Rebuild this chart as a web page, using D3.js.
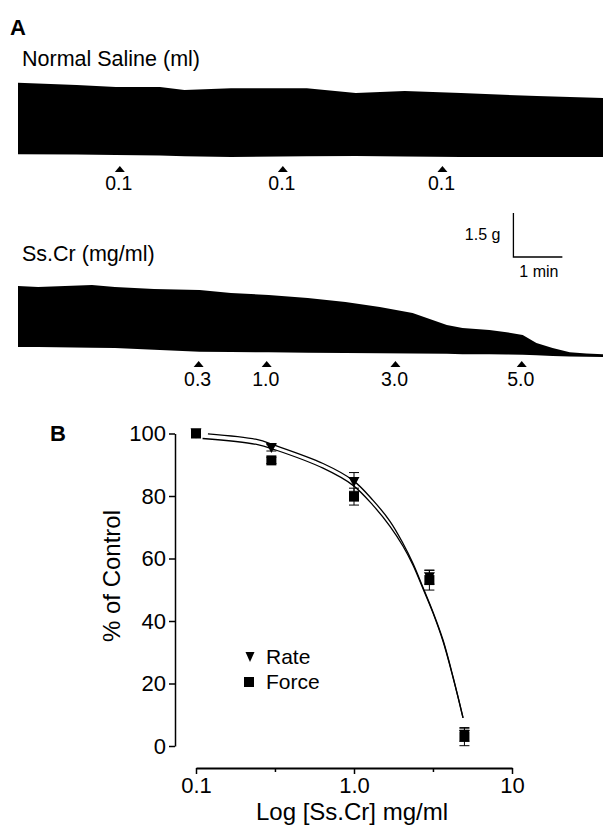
<!DOCTYPE html>
<html><head><meta charset="utf-8">
<script src="https://cdn.jsdelivr.net/npm/d3@7"></script>
<style>
body{margin:0;background:#fff}
svg{display:block}
text{font-family:"Liberation Sans",Arial,Helvetica,sans-serif;fill:#000}
</style>
</head><body><svg id="c" width="603" height="827"></svg>
<script>
// ---------- Panel A: tension traces (time in min, tension in g) ----------
const salineTime = [0, 1.2, 2.0, 2.9, 3.4, 4.35, 5.9, 6.9, 7.9, 9.05, 10.6, 11.95];
const salinePeak = [2.63, 2.56, 2.49, 2.49, 2.39, 2.45, 2.45, 2.28, 2.35, 2.28, 2.18, 2.11];
const salineRest = [0.20, 0.19, 0.17, 0.15, 0.13, 0.10, 0.13, 0.14, 0.12, 0.10, 0.10, 0.10];
const salineDoseTime = [2.08, 5.41, 8.67];
const salineDoseLabels = ["0.1", "0.1", "0.1"];

const sscrTime = [0, 0.41, 1.51, 1.98, 2.78, 3.71, 4.35, 5.12, 5.92, 6.69, 7.39, 8.06, 8.76, 9.08, 9.63, 9.98, 10.31, 10.59, 10.92, 11.27, 11.61, 11.95];
const sscrPeak = [2.52, 2.49, 2.56, 2.49, 2.42, 2.39, 2.28, 2.22, 2.11, 1.98, 1.81, 1.60, 1.19, 1.09, 1.02, 0.95, 0.85, 0.58, 0.41, 0.26, 0.22, 0.20];
const sscrRest = [0.44, 0.44, 0.42, 0.41, 0.35, 0.28, 0.27, 0.26, 0.25, 0.24, 0.23, 0.22, 0.21, 0.20, 0.20, 0.19, 0.18, 0.16, 0.14, 0.12, 0.11, 0.10];
const sscrDoseTime = [3.69, 5.08, 7.71, 10.29];
const sscrDoseLabels = ["0.3", "1.0", "3.0", "5.0"];

// ---------- Panel B: concentration-response ----------
const conc = [0.1, 0.3, 1.0, 3.0, 5.0];
const rateMean = [100, 95.4, 84.5, 54.0, 3.5];
const rateSEM = [0, 1.0, 3.0, 2.2, 2.0];
const forceMean = [100, 91.4, 79.8, 53.1, 3.0];
const forceSEM = [0, 1.0, 2.7, 3.2, 2.9];

const rateFitX = [0.119, 0.242, 0.316, 0.637, 0.986, 1.32, 1.69, 2.04, 2.36, 2.73, 3.16, 3.66, 4.24, 4.9];
const rateFitY = [99.9, 98.1, 96.2, 90.4, 85.0, 78.6, 71.9, 64.9, 58.5, 50.8, 42.9, 33.9, 22.0, 9.0];
const forceFitX = [0.11, 0.242, 0.316, 0.637, 0.986, 1.32, 1.69, 2.04, 2.36, 2.73, 3.16, 3.66, 4.24, 4.9];
const forceFitY = [98.4, 96.5, 94.8, 88.9, 83.4, 77.0, 70.3, 64.0, 57.9, 50.4, 42.6, 33.5, 21.8, 9.0];

const xTickValues = [0.1, 0.316, 1, 3.16, 10];
const xTickLabels = ["0.1", "", "1.0", "", "10"];
const yTickValues = [0, 20, 40, 60, 80, 100];
const legendNames = ["Rate", "Force"];

const svg = d3.select("#c");
const FONT = '"Liberation Sans",Arial,Helvetica,sans-serif';

// ===== Panel A =====
svg.append("text").attr("x", 10).attr("y", 35).attr("font-size", 22).attr("font-weight", "bold").text("A");
svg.append("text").attr("x", 22).attr("y", 66).attr("font-size", 21.5).text("Normal Saline (ml)");
svg.append("text").attr("x", 22).attr("y", 261).attr("font-size", 21.5).text("Ss.Cr (mg/ml)");

const tScale = d3.scaleLinear().domain([0, 11.95]).range([18, 603]);
const g1 = d3.scaleLinear().domain([0, 3]).range([160, 72]);
const g2 = d3.scaleLinear().domain([0, 3]).range([360, 272]);

function drawTrace(times, peak, rest, gs) {
  const area = d3.area()
    .x((d, i) => tScale(times[i]))
    .y0((d, i) => gs(rest[i]))
    .y1((d, i) => gs(peak[i]))
    .curve(d3.curveLinear);
  svg.append("path").datum(times).attr("d", area).attr("fill", "#000");
}
drawTrace(salineTime, salinePeak, salineRest, g1);
drawTrace(sscrTime, sscrPeak, sscrRest, g2);

function drawDoses(times, labels, apexY, labelY) {
  times.forEach((t, i) => {
    const x = tScale(t);
    svg.append("path")
      .attr("d", `M${x},${apexY}L${x - 5},${apexY + 6}L${x + 5},${apexY + 6}Z`)
      .attr("fill", "#000");
    svg.append("text").attr("x", x - 1).attr("y", labelY).attr("text-anchor", "middle")
      .attr("font-size", 19.5).text(labels[i]);
  });
}
drawDoses(salineDoseTime, salineDoseLabels, 166, 190);
drawDoses(sscrDoseTime, sscrDoseLabels, 361, 386);

// scale bar: 1.5 g x 1 min
const sbT = 10.12, sbBottom = 257;
const sbX0 = tScale(sbT), sbX1 = tScale(sbT + 1);
const sbH = g2(0) - g2(1.5);
svg.append("path")
  .attr("d", `M${sbX0},${sbBottom - sbH}L${sbX0},${sbBottom}L${sbX1},${sbBottom}`)
  .attr("fill", "none").attr("stroke", "#000").attr("stroke-width", 1.3);
svg.append("text").attr("x", sbX0 - 13).attr("y", 240).attr("text-anchor", "end").attr("font-size", 16).text("1.5 g");
svg.append("text").attr("x", (sbX0 + sbX1) / 2 + 1).attr("y", 277).attr("text-anchor", "middle").attr("font-size", 16).text("1 min");

// ===== Panel B =====
svg.append("text").attr("x", 50).attr("y", 441).attr("font-size", 22).attr("font-weight", "bold").text("B");

const x = d3.scaleLog().domain([0.1, 10]).range([196, 512]);
const y = d3.scaleLinear().domain([0, 100]).range([746, 433.5]);

// y axis
const yAxis = svg.append("g").attr("transform", "translate(175,0)")
  .call(d3.axisLeft(y).tickValues(yTickValues).tickSize(6).tickSizeOuter(0).tickPadding(3).tickFormat(d3.format("d")));
yAxis.select(".domain").attr("stroke-width", 1.5);
yAxis.selectAll(".tick line").attr("stroke-width", 1.5);
yAxis.selectAll("text").attr("font-size", 22).attr("font-family", FONT).attr("fill", "#000");

// x axis
const xAxis = svg.append("g").attr("transform", "translate(0,768)")
  .call(d3.axisBottom(x).tickValues(xTickValues).tickSize(6).tickSizeOuter(0).tickPadding(3)
    .tickFormat((d, i) => xTickLabels[i]));
xAxis.select(".domain").attr("stroke-width", 2);
xAxis.selectAll(".tick line").attr("stroke-width", 1.5).attr("y2", (d, i) => xTickLabels[i] ? 6 : 4);
xAxis.selectAll("text").attr("font-size", 22).attr("font-family", FONT).attr("fill", "#000");

svg.append("text").attr("x", 352).attr("y", 820).attr("text-anchor", "middle").attr("font-size", 24).text("Log [Ss.Cr] mg/ml");
svg.append("text").attr("transform", "translate(120,576) rotate(-90)").attr("text-anchor", "middle")
  .attr("font-size", 24).text("% of Control");

// fitted curves
function drawFit(xs, ys) {
  const line = d3.line().x((d, i) => x(xs[i])).y((d, i) => y(ys[i])).curve(d3.curveCatmullRom);
  svg.append("path").datum(xs).attr("d", line).attr("fill", "none").attr("stroke", "#000").attr("stroke-width", 1.3);
}
drawFit(rateFitX, rateFitY);
drawFit(forceFitX, forceFitY);

// error bars
function drawErr(means, sems) {
  conc.forEach((c, i) => {
    if (!sems[i]) return;
    const cx = x(c), yt = y(means[i] + sems[i]), yb = y(means[i] - sems[i]);
    svg.append("path")
      .attr("d", `M${cx},${yt}L${cx},${yb}M${cx - 5},${yt}L${cx + 5},${yt}M${cx - 5},${yb}L${cx + 5},${yb}`)
      .attr("stroke", "#000").attr("stroke-width", 1).attr("fill", "none");
  });
}
drawErr(rateMean, rateSEM);
drawErr(forceMean, forceSEM);

function triDown(cx, cy, w, h) {
  return `M${cx - w / 2},${cy - h / 2}L${cx + w / 2},${cy - h / 2}L${cx},${cy + h / 2}Z`;
}
function square(cx, cy, s) {
  return `M${cx - s / 2},${cy - s / 2}h${s}v${s}h${-s}Z`;
}
conc.forEach((c, i) => {
  svg.append("path").attr("d", triDown(x(c), y(rateMean[i]), 11, 10)).attr("fill", "#000");
});
conc.forEach((c, i) => {
  svg.append("path").attr("d", square(x(c), y(forceMean[i]), 10)).attr("fill", "#000");
});

// legend
svg.append("path").attr("d", triDown(250, 657, 9, 10)).attr("fill", "#000");
svg.append("text").attr("x", 266).attr("y", 664).attr("font-size", 21).text(legendNames[0]);
svg.append("path").attr("d", square(249, 682, 10)).attr("fill", "#000");
svg.append("text").attr("x", 266).attr("y", 689).attr("font-size", 21).text(legendNames[1]);
</script>
</body></html>
